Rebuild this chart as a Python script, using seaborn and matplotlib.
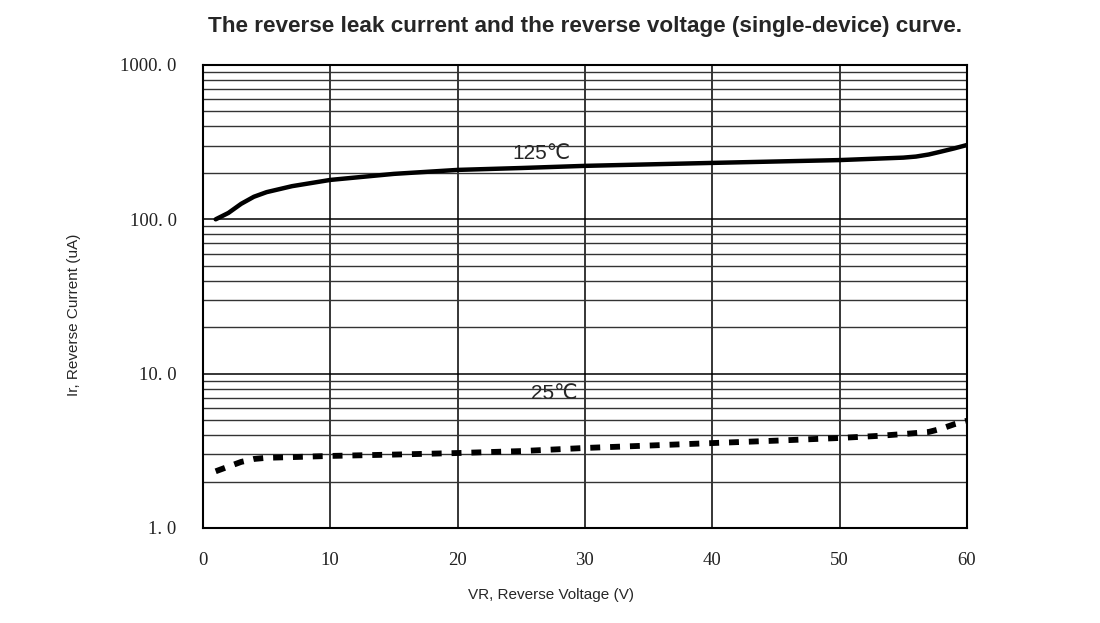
import numpy as np
import pandas as pd
import matplotlib
matplotlib.use("Agg")
import matplotlib.pyplot as plt
from matplotlib.ticker import FixedLocator, FuncFormatter
import seaborn as sns

# data
v_125 = [1, 2, 3, 4, 5, 7, 10, 15, 20, 25, 30, 40, 50, 55, 56, 57, 58, 59, 60]
i_125 = [100, 110, 126, 140, 150, 164, 180, 197, 209, 215, 222, 232, 242, 251, 255, 263, 275, 288, 303]
v_25 = [1, 2, 3, 4, 5, 7, 10, 15, 20, 25, 30, 35, 40, 45, 50, 53, 55, 57, 58, 59, 60]
i_25 = [2.33, 2.5, 2.68, 2.8, 2.85, 2.88, 2.93, 2.99, 3.06, 3.15, 3.3, 3.42, 3.55, 3.68,
        3.83, 3.95, 4.06, 4.19, 4.4, 4.7, 4.95]
x_ticks = [0, 10, 20, 30, 40, 50, 60]
y_ticks = [1.0, 10.0, 100.0, 1000.0]
curve_labels = ["125℃", "25℃"]

sns.set_style("white")
plt.rcParams['font.family'] = ['Liberation Sans', 'DejaVu Sans']

fig = plt.figure(figsize=(11, 6.23), dpi=100)
ax = fig.add_axes([0.1845, 0.1525, 0.6945, 0.7432])

df125 = pd.DataFrame({"V": v_125, "I": i_125})
df25 = pd.DataFrame({"V": v_25, "I": i_25})
sns.lineplot(data=df125, x="V", y="I", ax=ax, color="black", lw=3.2, zorder=5)
sns.lineplot(data=df25, x="V", y="I", ax=ax, color="black", lw=4.2, zorder=5,
             linestyle=(0, (1.7, 1.7)))

ax.set_yscale("log")
ax.set_xlim(0, 60)
ax.set_ylim(1, 1000)

# grid: every 10 V and every 1..9 x decade
ax.xaxis.set_major_locator(FixedLocator(x_ticks))
ax.yaxis.set_major_locator(FixedLocator(y_ticks))
minor_y = [m * d for d in [1, 10, 100] for m in range(2, 10)]
ax.yaxis.set_minor_locator(FixedLocator(minor_y))
ax.yaxis.set_major_formatter(FuncFormatter(lambda v, p: f"{v:.1f}".replace(".", ". ")))
ax.yaxis.set_minor_formatter(FuncFormatter(lambda v, p: ""))
ax.grid(True, which="major", axis="both", color="black", lw=1.1)
ax.grid(True, which="minor", axis="y", color="#333333", lw=1.0)
for s in ax.spines.values():
    s.set_color("black"); s.set_linewidth(1.5)

ax.tick_params(axis="both", which="both", length=0)
ax.tick_params(axis="x", pad=17)
ax.tick_params(axis="y", pad=19)
for t in ax.get_xticklabels() + ax.get_yticklabels():
    t.set_family(['Liberation Serif', 'DejaVu Serif'])
    t.set_fontsize(13.5)
    t.set_color("#222222")

ax.set_xlabel("VR, Reverse Voltage (V)", fontsize=11)
ax.set_ylabel("Ir, Reverse Current (uA)", fontsize=11)
ax.xaxis.set_label_coords(0.455, -0.129)
ax.yaxis.set_label_coords(-0.159, 0.46)

ax.text(26.6, 268, curve_labels[0], fontsize=15, ha="center", va="center", zorder=6,
        family=['Liberation Sans', 'DejaVu Sans'])
ax.text(27.6, 7.4, curve_labels[1], fontsize=15, ha="center", va="center", zorder=6,
        family=['Liberation Sans', 'DejaVu Sans'])

ax.set_title("The reverse leak current and the reverse voltage (single-device) curve.",
             fontsize=16.2, fontweight="bold", pad=24)

fig.savefig("out.png", dpi=100, facecolor="white")
